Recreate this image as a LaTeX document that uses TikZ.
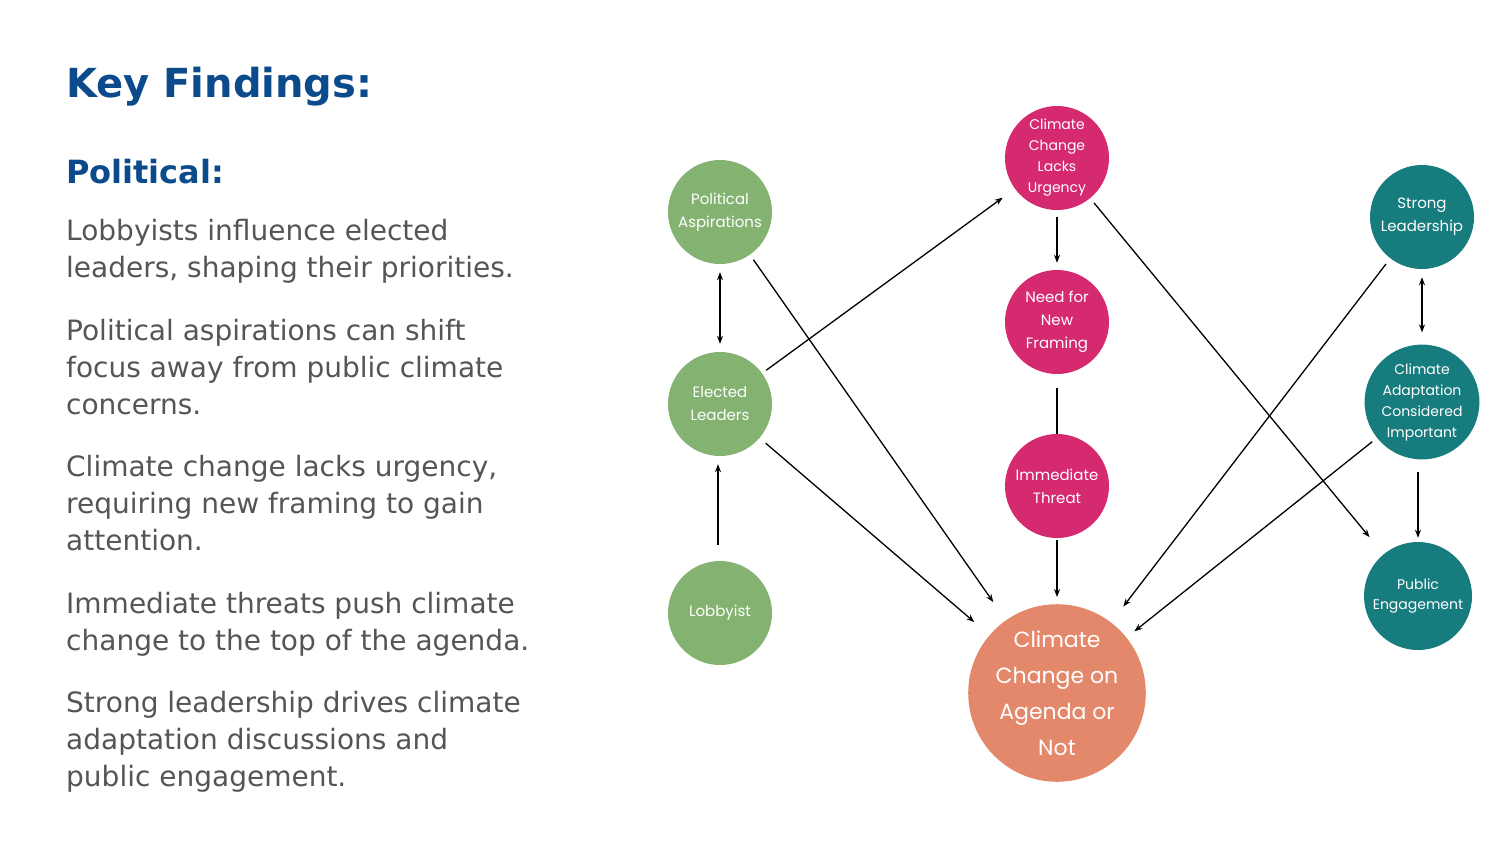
\documentclass[tikz,border=0pt]{standalone}
\usepackage{fontspec}
\setmainfont{DejaVu Sans}
\newfontfamily\circfont{Poppins}
\usetikzlibrary{arrows.meta}
\definecolor{titleblue}{HTML}{0B4A8B}
\definecolor{bodygrey}{HTML}{555555}
\definecolor{cgreen}{HTML}{83B271}
\definecolor{cpink}{HTML}{D52A6F}
\definecolor{cteal}{HTML}{167C7E}
\definecolor{corange}{HTML}{E3886A}
\tikzset{
  circ/.style={circle,minimum size=104pt,inner sep=1pt,text=white,align=center,font=\circfont\fontsize{15}{23}\selectfont},
  gcirc/.style={circ,fill=cgreen},
  pcirc/.style={circ,fill=cpink},
  tcirc/.style={circ,fill=cteal},
  para/.style={anchor=base west,align=left,text=bodygrey,inner sep=0pt,font=\fontsize{28}{37}\selectfont},
  arr/.style={-{Stealth[length=8pt,width=6pt]},line width=1.3pt,black},
  darr/.style={{Stealth[length=8pt,width=6pt]}-{Stealth[length=8pt,width=6pt]},line width=1.3pt,black},
}
\begin{document}
\begin{tikzpicture}[x=1pt,y=-1pt]
\useasboundingbox[fill=white] (0,0) rectangle (1500,844);
\node[anchor=base west,inner sep=0pt,text=titleblue,font=\bfseries\fontsize{40}{50}\selectfont] (t) at (66,97) {Key Findings:};
\node[anchor=base west,inner sep=0pt,text=titleblue,font=\bfseries\fontsize{32}{40}\selectfont] (p) at (66,183) {Political:};
\node[para] (b1) at (66,277) {Lobbyists influence elected\\leaders, shaping their priorities.};
\node[para] (b2) at (66,414) {Political aspirations can shift\\focus away from public climate\\concerns.};
\node[para] (b3) at (66,550) {Climate change lacks urgency,\\requiring new framing to gain\\attention.};
\node[para] (b4) at (66,650) {Immediate threats push climate\\change to the top of the agenda.};
\node[para] (b5) at (66,786) {Strong leadership drives climate\\adaptation discussions and\\public engagement.};

\node[gcirc] (pa) at (720,212) {Political\\Aspirations};
\node[gcirc] (el) at (720,404) {Elected\\Leaders};
\node[gcirc] (lo) at (720,613) {Lobbyist};
\node[pcirc,font=\circfont\fontsize{14}{21}\selectfont] (cu) at (1057,158) {Climate\\Change\\Lacks\\Urgency};
\node[pcirc] (nf) at (1057,322) {Need for\\New\\Framing};
\node[pcirc] (it) at (1057,486) {Immediate\\Threat};
\node[circ,fill=corange,minimum size=160pt,font=\circfont\fontsize{22}{36}\selectfont] (ag) at (1057,693) {Climate\\Change on\\Agenda or\\Not};
\node[tcirc] (sl) at (1422,217) {Strong\\Leadership};
\node[tcirc,minimum size=108pt,font=\circfont\fontsize{14}{21}\selectfont] (ca) at (1422,402) {Climate\\Adaptation\\Considered\\Important};
\node[tcirc,minimum size=108pt,font=\circfont\fontsize{14}{20}\selectfont] (pe) at (1418,596) {Public\\Engagement};

\draw[darr,shorten <=8pt,shorten >=8pt] (pa) -- (el);
\draw[arr,shorten <=16pt,shorten >=8pt] (lo.north) ++(-2,0) coordinate (lon) -- (el.south -| lon);
\draw[arr,shorten <=6pt,shorten >=22pt] (pa) -- (ag);
\draw[arr,shorten <=5pt,shorten >=15pt] (el) -- (cu);
\draw[arr,shorten <=8pt,shorten >=20pt] (el) -- (ag);
\draw[arr,shorten <=7pt,shorten >=7pt] (cu) -- (nf);
\draw[line width=1.3pt,shorten <=14pt,shorten >=0pt] (nf) -- (it);
\draw[arr,shorten <=2pt,shorten >=7pt] (it) -- (ag);
\draw[arr,shorten <=6pt,shorten >=22pt] (cu) -- (pe);
\draw[arr,shorten <=7pt,shorten >=20pt] (sl) -- (ag);
\draw[darr,shorten <=8pt,shorten >=12pt] (sl) -- (ca);
\draw[arr,shorten <=12pt,shorten >=4pt] (ca.south -| pe) -- (pe);
\draw[arr,shorten <=6pt,shorten >=10pt] (ca) -- (ag);
\end{tikzpicture}
\end{document}
